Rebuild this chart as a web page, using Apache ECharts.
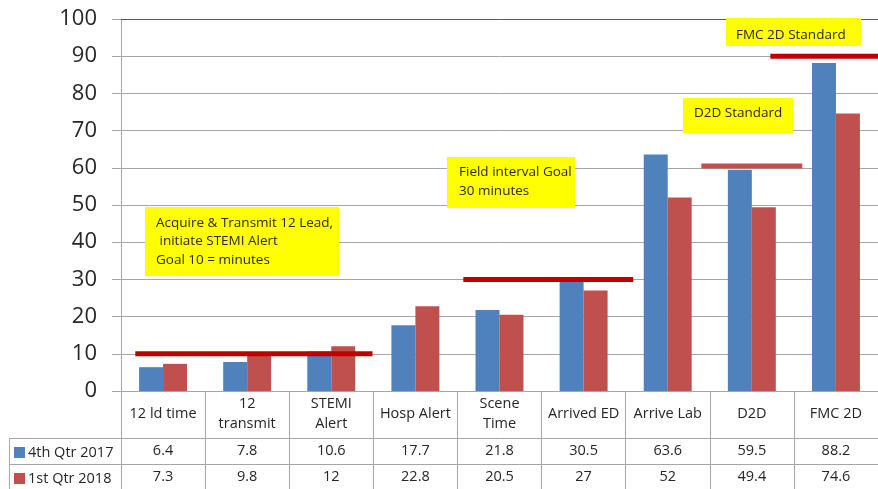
<!DOCTYPE html>
<html>
<head>
<meta charset="utf-8">
<title>STEMI interval times</title>
<script src="https://cdn.jsdelivr.net/npm/echarts@6/dist/echarts.min.js"></script>
<style>
  html, body { margin: 0; padding: 0; background: #ffffff; }
  #chart { width: 878px; height: 489px; }
</style>
</head>
<body>
<div id="chart"></div>
<script>
// Interval categories (header row of the data table)
const categories = ['12 ld time', '12\ntransmit', 'STEMI\nAlert', 'Hosp Alert', 'Scene\nTime', 'Arrived ED', 'Arrive Lab', 'D2D', 'FMC 2D'];
const seriesNames = ['4th Qtr 2017', '1st Qtr 2018'];
// Minutes per interval
const q4_2017 = [6.4, 7.8, 10.6, 17.7, 21.8, 30.5, 63.6, 59.5, 88.2];
const q1_2018 = [7.3, 9.8, 12, 22.8, 20.5, 27, 52, 49.4, 74.6];
// Y axis ticks
const yMin = 0, yMax = 100, yStep = 10;
// Goal / standard lines: level in minutes, span in category units (0 = left edge of first category)
const goalLevels = [10, 30, 60.5, 90];
const goalFrom = [0.17, 4.07, 6.9, 7.72];
const goalTo = [2.99, 6.09, 8.1, 9.0];
// Callout texts
const calloutTexts = [
  'Acquire & Transmit 12 Lead,\n initiate STEMI Alert\nGoal 10 = minutes',
  'Field interval Goal\n30 minutes',
  'D2D Standard',
  'FMC 2D Standard'
];

const FONT = 'Open Sans';
const TEXT = '#262626';
const GRID = '#a6a6a6';
const BLUE = '#4F81BD';
const RED = '#C0504D';
const GOAL_COLORS = ['#C00000', '#C00000', '#C0504D', '#C00000'];

const chart = echarts.init(document.getElementById('chart'), null, { renderer: 'canvas' });

const tableAxis = (offset, tickLen, values) => ({
  type: 'category',
  data: categories,
  position: 'bottom',
  offset: offset,
  axisLine: { show: true, lineStyle: { color: GRID, width: 1 } },
  axisTick: { show: true, interval: 0, length: tickLen, lineStyle: { color: GRID } },
  axisLabel: {
    interval: 0, margin: 13, verticalAlign: 'middle',
    fontFamily: FONT, fontSize: 14.5, color: TEXT,
    formatter: (v, i) => String(values[i])
  },
  splitLine: { show: false }
});

const goalSeries = goalLevels.map((lvl, i) => ({
  type: 'line',
  xAxisIndex: 3,
  yAxisIndex: 0,
  silent: true,
  symbol: 'none',
  z: 5,
  lineStyle: { color: GOAL_COLORS[i], width: 5, cap: 'butt' },
  data: [[goalFrom[i], lvl], [goalTo[i], lvl]]
}));

// Yellow callout boxes
const boxes = [
  { x: 145, y: 207, w: 194, h: 69, tx: 156, ty: 213.5, lh: 18.5 },
  { x: 447, y: 157, w: 128, h: 51, tx: 459, ty: 162.5, lh: 19 },
  { x: 683, y: 98, w: 110, h: 35, tx: 694, ty: 104, lh: 19 },
  { x: 726, y: 18, w: 135, h: 28, tx: 736, ty: 25.5, lh: 19 }
];
const graphics = [];
boxes.forEach((b, i) => {
  graphics.push({
    type: 'rect', shape: { x: b.x, y: b.y, width: b.w, height: b.h },
    style: { fill: '#FFFF00' }, z: 10, silent: true
  });
  graphics.push({
    type: 'text', x: b.tx, y: b.ty, z: 11, silent: true,
    style: { text: calloutTexts[i], fill: '#2b2b14', font: '13.5px "Open Sans"', lineHeight: b.lh, textVerticalAlign: 'top' }
  });
});
// Left column of the data table (series names)
[[9, 438.5, 121, 438.5], [9, 464.5, 121, 464.5], [9.5, 438, 9.5, 489]].forEach(p => {
  graphics.push({
    type: 'line', shape: { x1: p[0], y1: p[1], x2: p[2], y2: p[3] },
    style: { stroke: GRID, lineWidth: 1 }, silent: true
  });
});

const legendBase = (name, top) => ({
  data: [name], left: 14, top: top, orient: 'horizontal', padding: 0,
  icon: 'rect', itemWidth: 11, itemHeight: 11, itemGap: 0,
  textStyle: { fontFamily: FONT, fontSize: 14.5, color: TEXT, padding: [0, 0, 0, -2] },
  selectedMode: false
});

chart.setOption({
  animation: false,
  textStyle: { fontFamily: FONT },
  grid: { left: 121, right: 0, top: 19, bottom: 98, containLabel: false },
  legend: [legendBase(seriesNames[0], 445), legendBase(seriesNames[1], 471)],
  xAxis: [
    {
      type: 'category',
      data: categories,
      position: 'bottom',
      axisLine: { show: true, lineStyle: { color: GRID, width: 1 } },
      axisTick: { show: true, interval: 0, length: 47, lineStyle: { color: GRID } },
      axisLabel: {
        interval: 0, margin: 23, verticalAlign: 'middle',
        fontFamily: FONT, fontSize: 14.5, lineHeight: 20, color: TEXT
      },
      splitLine: { show: false }
    },
    tableAxis(47, 26, q4_2017),
    tableAxis(73, 30, q1_2018),
    { type: 'value', min: 0, max: categories.length, show: false }
  ],
  yAxis: {
    type: 'value', min: yMin, max: yMax, interval: yStep,
    axisLine: { show: true, lineStyle: { color: GRID } },
    axisTick: { show: true, length: 9, lineStyle: { color: GRID } },
    axisLabel: { margin: 24, fontFamily: FONT, fontSize: 22, color: TEXT },
    splitLine: { show: true, lineStyle: { color: GRID, width: 1 } }
  },
  graphic: graphics,
  series: [
    {
      name: seriesNames[0], type: 'bar', xAxisIndex: 0, data: q4_2017,
      itemStyle: { color: BLUE }, barGap: '0%', barCategoryGap: '43%',
      // darker frame line along the top of the plot
      markLine: {
        silent: true, symbol: 'none', label: { show: false },
        lineStyle: { color: '#595959', width: 1, type: 'solid' },
        data: [{ yAxis: yMax }]
      }
    },
    {
      name: seriesNames[1], type: 'bar', xAxisIndex: 0, data: q1_2018,
      itemStyle: { color: RED }, barGap: '0%', barCategoryGap: '43%'
    },
    ...goalSeries
  ]
});
</script>
</body>
</html>
